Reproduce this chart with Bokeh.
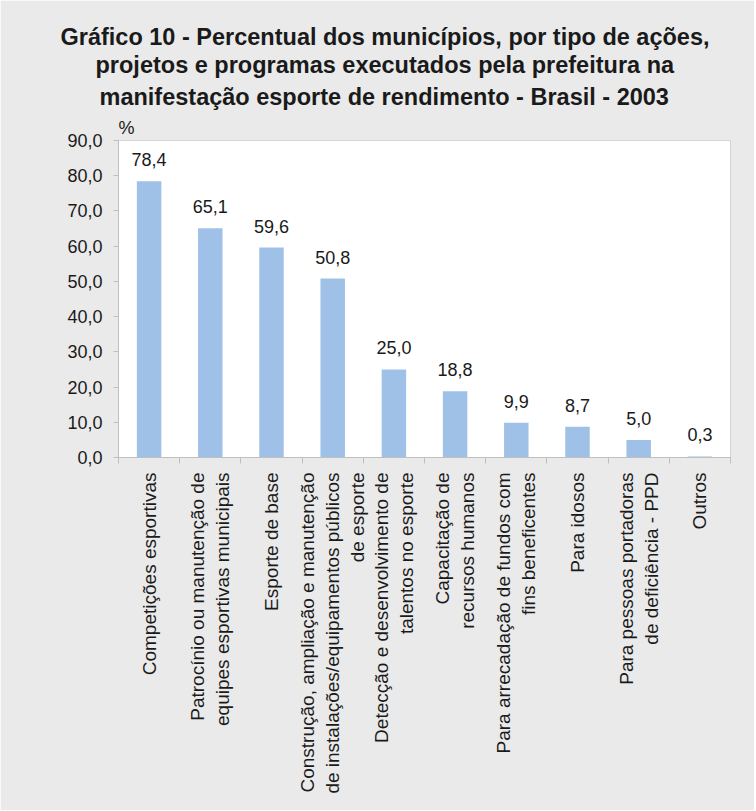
import math
from bokeh.plotting import figure
from bokeh.models import (ColumnDataSource, LabelSet, Title, LinearAxis, Range1d,
                          FixedTicker)
from bokeh.core.properties import value
from bokeh.embed import file_html
from bokeh.resources import INLINE

categories = [
    "Competições esportivas",
    "Patrocínio ou manutenção de\nequipes esportivas municipais",
    "Esporte de base",
    "Construção, ampliação e manutenção\nde instalações/equipamentos públicos\nde esporte",
    "Detecção e desenvolvimento de\ntalentos no esporte",
    "Capacitação de\nrecursos humanos",
    "Para arrecadação de fundos com\nfins beneficentes",
    "Para idosos",
    "Para pessoas portadoras\nde deficiência - PPD",
    "Outros",
]
values = [78.4, 65.1, 59.6, 50.8, 25.0, 18.8, 9.9, 8.7, 5.0, 0.3]
y_ticks = [0, 10, 20, 30, 40, 50, 60, 70, 80, 90]
title_lines = [
    "Gráfico 10 - Percentual dos municípios, por tipo de ações,",
    "projetos e programas executados pela prefeitura na",
    "manifestação esporte de rendimento - Brasil - 2003",
]
unit_label = "%"

FONT = "Liberation Sans"
TXT = "#1a1a1a"
BG = "#eaeaea"
AXIS = "#bfbfbf"

n = len(categories)
centers = [i + 0.5 for i in range(n)]
labels = [f"{v:.1f}".replace(".", ",") for v in values]
src = ColumnDataSource(dict(x=centers, val=values, lab=labels))

p = figure(x_range=Range1d(0, n), y_range=Range1d(0, 90),
           frame_width=612, frame_height=317, title=None,
           output_backend="svg", toolbar_location=None,
           min_border_left=118, min_border_right=24, min_border_top=140,
           min_border_bottom=353, x_axis_location=None)
p.background_fill_color = "white"
p.border_fill_color = BG
p.outline_line_color = "#d4d4d4"
p.grid.visible = False

p.vbar(x="x", top="val", width=0.4, source=src, color="#9fc1e7", line_color=None)

p.add_layout(LabelSet(x="x", y="val", text="lab", source=src, y_offset=15,
                      text_align="center", text_baseline="alphabetic",
                      text_font=value(FONT), text_font_size="18px", text_color=TXT))

# y axis
ya = p.yaxis[0]
ya.ticker = FixedTicker(ticks=y_ticks)
ya.major_label_overrides = {t: f"{t:.1f}".replace(".", ",") for t in y_ticks}
ya.axis_line_color = AXIS
ya.major_tick_line_color = AXIS
ya.major_tick_out = 5
ya.major_tick_in = 0
ya.minor_tick_line_color = None
ya.major_label_standoff = 11
ya.major_label_text_font = FONT
ya.major_label_text_font_size = "18px"
ya.major_label_text_color = TXT

# x axes: boundary ticks + category labels
bound_axis = LinearAxis(ticker=FixedTicker(ticks=list(range(n + 1))),
                        major_label_text_color=None, major_label_text_font_size="1px",
                        major_label_standoff=0, axis_line_color=AXIS,
                        major_tick_line_color=AXIS, major_tick_out=6, major_tick_in=0,
                        minor_tick_line_color=None)
cat_axis = LinearAxis(ticker=FixedTicker(ticks=centers),
                      major_label_overrides={c: lab for c, lab in zip(centers, categories)},
                      major_label_orientation=math.pi / 2,
                      major_tick_line_color=None, axis_line_color=None,
                      minor_tick_line_color=None,
                      major_label_standoff=3,
                      major_label_text_font=FONT,
                      major_label_text_font_size="19px",
                      major_label_text_color=TXT)
p.below = [bound_axis, cat_axis]

# titles (first = closest to the frame)
pct = Title(text=unit_label, align="left", offset=0, standoff=5,
            text_font=FONT, text_font_size="18px", text_font_style="normal",
            text_color=TXT)
offsets = [-58, -23, -19]
standoffs = [0, 0, 8]
t_objs = []
for line, off, so in zip(title_lines, offsets, standoffs):
    t_objs.append(Title(text=line, align="left", offset=off, standoff=so,
                        text_font=FONT, text_font_size="23.5px",
                        text_font_style="bold", text_color=TXT))
p.above = [pct, t_objs[2], t_objs[1], t_objs[0]]

open("out.html", "w").write(file_html(p, INLINE))
